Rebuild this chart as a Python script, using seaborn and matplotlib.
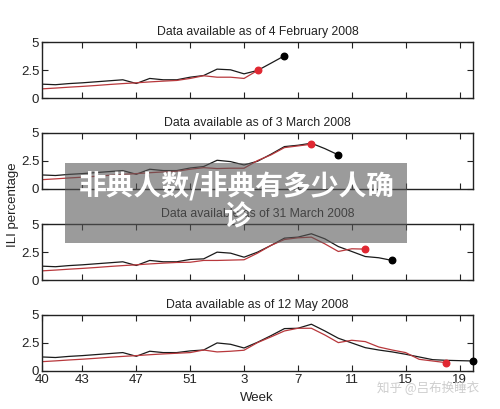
import matplotlib
matplotlib.use("Agg")
import matplotlib.pyplot as plt
import numpy as np
import pandas as pd
import seaborn as sns
from matplotlib.patches import Rectangle

# 2007/08 season, weeks 40..52 then 1..20
season_weeks = list(range(40, 53)) + list(range(1, 21))
tick_weeks = [40, 43, 47, 51, 3, 7, 11, 15, 19]

titles = [
    "Data available as of 4 February 2008",
    "Data available as of 3 March 2008",
    "Data available as of 31 March 2008",
    "Data available as of 12 May 2008",
]

# observed ILI (black) for each data vintage
obs_feb = [1.25, 1.2, 1.3, 1.37, 1.46, 1.55, 1.64, 1.31, 1.76, 1.64, 1.64,
           1.87, 2.02, 2.59, 2.53, 2.17, 2.47, 3.12, 3.78]
obs_mar3 = [1.25, 1.2, 1.3, 1.37, 1.46, 1.55, 1.64, 1.31, 1.76, 1.64, 1.64,
            1.87, 2.0, 2.56, 2.44, 2.14, 2.47, 3.1, 3.78, 3.9, 4.08, 3.6, 3.04]
obs_mar31 = [1.25, 1.2, 1.3, 1.37, 1.46, 1.55, 1.64, 1.31, 1.76, 1.64, 1.64,
             1.85, 1.9, 2.5, 2.41, 2.05, 2.5, 3.1, 3.75, 3.84, 4.14, 3.69, 3.0,
             2.56, 2.11, 2.0, 1.76]
obs_may = [1.25, 1.2, 1.3, 1.37, 1.46, 1.55, 1.64, 1.31, 1.76, 1.64, 1.64,
           1.79, 1.87, 2.5, 2.38, 2.05, 2.56, 3.15, 3.78, 3.81, 4.17, 3.57, 2.92,
           2.5, 2.08, 1.87, 1.7, 1.49, 1.25, 1.01, 0.95, 0.92, 0.89]

# estimate (red) for each vintage
est_feb = [0.83, 0.9, 0.98, 1.05, 1.13, 1.22, 1.3, 1.37, 1.45, 1.52, 1.58,
           1.76, 2.0, 1.87, 1.87, 1.76, 2.47]
est_mar3 = [0.83, 0.9, 0.98, 1.05, 1.13, 1.22, 1.3, 1.37, 1.45, 1.52, 1.58,
            1.76, 1.9, 1.82, 1.85, 1.85, 2.53, 3.04, 3.69, 3.84, 3.99]
est_mar31 = [0.83, 0.9, 0.98, 1.05, 1.13, 1.22, 1.3, 1.37, 1.45, 1.52, 1.58,
             1.6, 1.76, 1.76, 1.79, 1.82, 2.41, 3.1, 3.63, 3.78, 3.84, 3.24, 2.56,
             2.8, 2.77]
est_may = [0.83, 0.9, 0.98, 1.05, 1.13, 1.22, 1.3, 1.37, 1.45, 1.52, 1.58,
           1.64, 1.87, 1.7, 1.76, 1.85, 2.53, 3.04, 3.57, 3.81, 3.81, 3.21, 2.53,
           2.74, 2.62, 2.14, 1.87, 1.64, 1.04, 0.89, 0.74]

obs_list = [obs_feb, obs_mar3, obs_mar31, obs_may]
est_list = [est_feb, est_mar3, est_mar31, est_may]

sns.set_theme(style="ticks")
plt.rcParams["font.family"] = ["Liberation Sans", "DejaVu Sans"]

fig = plt.figure(figsize=(5.0, 4.09), dpi=100)

left, width, height = 0.084, 0.862, 0.137
bottoms = [0.760, 0.538, 0.315, 0.093]

black = "#1a1a1a"
red_line = "#b8383c"
red_dot = "#e02832"

tick_pos = [season_weeks.index(w) for w in tick_weeks]

for i in range(4):
    ax = fig.add_axes([left, bottoms[i], width, height])
    obs_df = pd.DataFrame({"x": np.arange(len(obs_list[i])), "ili": obs_list[i]})
    est_df = pd.DataFrame({"x": np.arange(len(est_list[i])), "ili": est_list[i]})
    sns.lineplot(data=obs_df, x="x", y="ili", color=black, linewidth=0.9, ax=ax)
    sns.lineplot(data=est_df, x="x", y="ili", color=red_line, linewidth=0.9, ax=ax)
    ax.scatter(obs_df["x"].iloc[-1], obs_df["ili"].iloc[-1], s=22, color="black",
               zorder=5, clip_on=False)
    ax.scatter(est_df["x"].iloc[-1], est_df["ili"].iloc[-1], s=22, color=red_dot,
               zorder=5, clip_on=False)

    ax.set_xlim(0, len(season_weeks) - 1)
    ax.set_ylim(0, 5)
    ax.set_yticks([0, 2.5, 5])
    ax.set_yticklabels(["0", "2.5", "5"])
    ax.set_xticks(tick_pos)
    if i == 3:
        ax.set_xticklabels([str(w) for w in tick_weeks])
    else:
        ax.set_xticklabels([])
    ax.set_xlabel("")
    ax.set_ylabel("")
    ax.tick_params(direction="in", top=True, right=True, length=4, width=0.8,
                   labelsize=9.5, pad=2, colors="#222222")
    for sp in ax.spines.values():
        sp.set_visible(True)
        sp.set_linewidth(1.0)
        sp.set_color("#222222")
    ax.set_title(titles[i], fontsize=8.8, pad=5, color="#222222")

fig.text(0.514, 1 - 398 / 409, "Week", ha="center", va="center", fontsize=9.5,
         color="#222222")
fig.text(0.026, 0.50, "ILI percentage", rotation=90, ha="center", va="center",
         fontsize=9.5, color="#222222")

# gray banner overlay
fig.patches.append(Rectangle((65 / 500, 1 - 243 / 409), 342 / 500, 80 / 409,
                             transform=fig.transFigure, facecolor=(0.35, 0.35, 0.35),
                             alpha=0.6, edgecolor="none", zorder=10))
fig.text(237 / 500, 1 - 186 / 409, "非典人数/非典有多少人确", ha="center", va="center",
         fontsize=20, fontweight="bold", color="white", zorder=11,
         family=["Noto Sans CJK SC", "DejaVu Sans"])
fig.text(238 / 500, 1 - 218 / 409, "诊", ha="center", va="center",
         fontsize=20, fontweight="bold", color="white", zorder=11,
         family=["Noto Sans CJK SC", "DejaVu Sans"])

# watermark
fig.text(428 / 500, 1 - 388 / 409, "知乎 @吕布换睡衣", ha="center", va="center",
         fontsize=9, color="#c8c8c8", alpha=0.9,
         family=["Noto Sans CJK SC", "DejaVu Sans"])

fig.savefig("out.png", dpi=100, facecolor="white")
